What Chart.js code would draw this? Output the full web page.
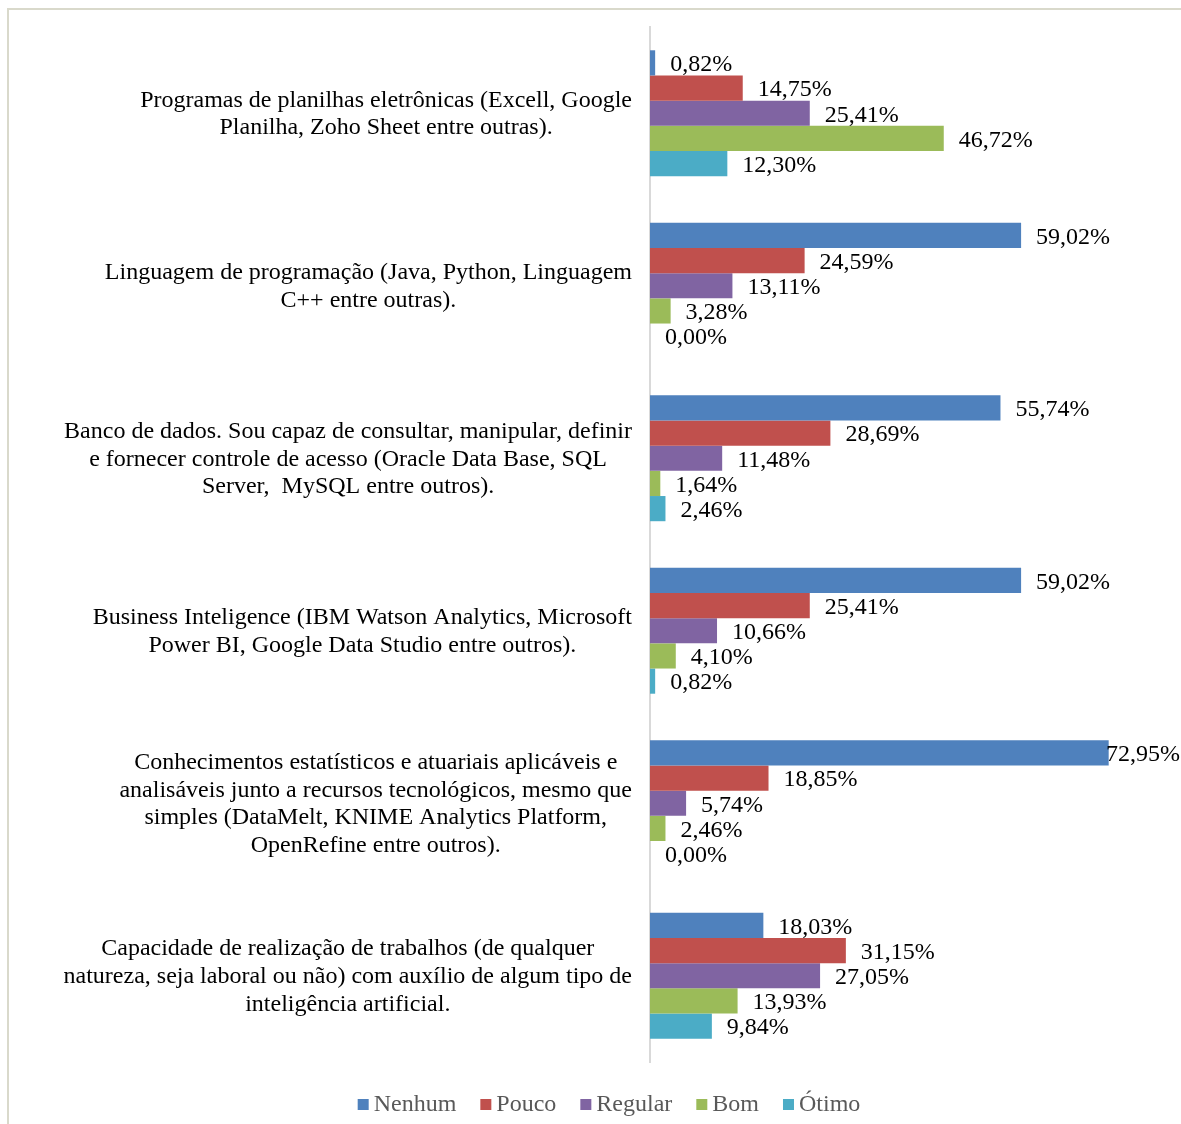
<!DOCTYPE html>
<html>
<head>
<meta charset="utf-8">
<script src="https://cdn.jsdelivr.net/npm/chart.js@4"></script>
<style>
  html, body { margin: 0; padding: 0; background: #ffffff; }
  #wrap { position: relative; width: 1181px; height: 1124px; }
</style>
</head>
<body>
<div id="wrap"><canvas id="c" width="1181" height="1124"></canvas></div>
<script>
const categories = [
  ["Programas de planilhas eletrônicas (Excell, Google", "Planilha, Zoho Sheet entre outras)."],
  ["Linguagem de programação (Java, Python, Linguagem", "C++ entre outras)."],
  ["Banco de dados. Sou capaz de consultar, manipular, definir", "e fornecer controle de acesso (Oracle Data Base, SQL", "Server,  MySQL entre outros)."],
  ["Business Inteligence (IBM Watson Analytics, Microsoft", "Power BI, Google Data Studio entre outros)."],
  ["Conhecimentos estatísticos e atuariais aplicáveis e", "analisáveis junto a recursos tecnológicos, mesmo que", "simples (DataMelt, KNIME Analytics Platform,", "OpenRefine entre outros)."],
  ["Capacidade de realização de trabalhos (de qualquer", "natureza, seja laboral ou não) com auxílio de algum tipo de", "inteligência artificial."]
];
const seriesNames = ["Nenhum", "Pouco", "Regular", "Bom", "Ótimo"];
const nenhum  = [0.82, 59.02, 55.74, 59.02, 72.95, 18.03];
const pouco   = [14.75, 24.59, 28.69, 25.41, 18.85, 31.15];
const regular = [25.41, 13.11, 11.48, 10.66, 5.74, 27.05];
const bom     = [46.72, 3.28, 1.64, 4.10, 2.46, 13.93];
const otimo   = [12.30, 0.00, 2.46, 0.82, 0.00, 9.84];
const colors  = ["#4F81BD", "#C0504D", "#8064A2", "#9BBB59", "#4BACC6"];

const FONT = '"Liberation Serif", "Times New Roman", serif';
const FS = 24;

function fmt(v) { return v.toFixed(2).replace('.', ',') + '%'; }

const customPlugin = {
  id: 'customDraw',
  beforeDraw(chart) {
    const ctx = chart.ctx;
    ctx.save();
    ctx.strokeStyle = '#D9D9CB';
    ctx.lineWidth = 2;
    ctx.strokeRect(8, 9, 1300, 1300);
    ctx.restore();
  },
  afterDraw(chart) {
    const ctx = chart.ctx;
    const yScale = chart.scales.y;
    const area = chart.chartArea;
    ctx.save();
    ctx.font = FS + 'px ' + FONT;
    ctx.textBaseline = 'middle';
    ctx.fillStyle = '#000000';

    // category labels: lines centered on each other, block right-aligned
    const lineH = 27.8;
    const rightEdge = area.left - 18;
    chart.data.labels.forEach((lines, i) => {
      const cy = yScale.getPixelForValue(i) + 1;
      const widths = lines.map(l => ctx.measureText(l).width);
      const maxW = Math.max(...widths);
      const centerX = rightEdge - maxW / 2;
      const startY = cy - (lines.length - 1) * lineH / 2;
      ctx.textAlign = 'center';
      lines.forEach((l, k) => ctx.fillText(l, centerX, startY + k * lineH));
    });

    // value labels
    ctx.textAlign = 'left';
    chart.data.datasets.forEach((ds, di) => {
      const meta = chart.getDatasetMeta(di);
      meta.data.forEach((bar, i) => {
        const txt = fmt(ds.data[i]);
        const w = ctx.measureText(txt).width;
        let x = bar.x + 15;
        if (x + w > chart.width - 1) x = chart.width - 1 - w;
        ctx.fillText(txt, x, bar.y + 2);
      });
    });

    // legend
    const box = 11, gapBox = 5, gapItem = 24;
    const items = chart.data.datasets.map(ds => ({ label: ds.label, color: ds.backgroundColor, w: ctx.measureText(ds.label).width }));
    const total = items.reduce((s, it) => s + box + gapBox + it.w, 0) + gapItem * (items.length - 1);
    let x = 609 - total / 2;
    const ly = 1105;
    items.forEach(it => {
      ctx.fillStyle = it.color;
      ctx.fillRect(x, ly - 6, box, box);
      ctx.fillStyle = '#595959';
      ctx.fillText(it.label, x + box + gapBox, ly);
      x += box + gapBox + it.w + gapItem;
    });
    ctx.restore();
  }
};

const allSeries = [nenhum, pouco, regular, bom, otimo];

new Chart(document.getElementById('c'), {
  type: 'bar',
  data: {
    labels: categories,
    datasets: allSeries.map((d, i) => ({
      label: seriesNames[i],
      data: d,
      backgroundColor: colors[i],
      borderWidth: 0,
      categoryPercentage: 0.73,
      barPercentage: 1.0
    }))
  },
  options: {
    indexAxis: 'y',
    responsive: false,
    animation: false,
    devicePixelRatio: 1,
    layout: { padding: { left: 650, right: 72, top: 27, bottom: 62 } },
    plugins: { legend: { display: false }, tooltip: { enabled: false }, title: { display: false } },
    scales: {
      x: { display: false, min: 0, max: 73 },
      y: {
        display: true,
        afterFit(s) { s.width = 0; },
        ticks: { display: false },
        grid: { display: false, drawTicks: false },
        border: { display: true, color: '#D9D9D9', width: 2 }
      }
    }
  },
  plugins: [customPlugin]
});
</script>
</body>
</html>
